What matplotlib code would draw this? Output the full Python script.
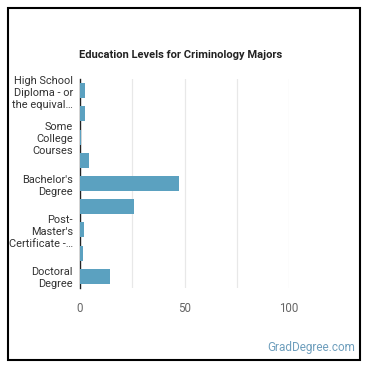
import matplotlib
matplotlib.use("Agg")
import matplotlib.pyplot as plt
from matplotlib.patches import Rectangle

plt.rcParams['font.family'] = ['Roboto', 'DejaVu Sans']

# education levels, top to bottom
categories = ["High School Diploma - or the equivalent",
              "Post-Secondary Certificate",
              "Some College Courses",
              "Associate's Degree",
              "Bachelor's Degree",
              "Master's Degree",
              "Post-Master's Certificate",
              "First Professional Degree",
              "Doctoral Degree"]
# only every other label is shown on the chart
shown_labels = ["High School\nDiploma - or\nthe equival\u2026", "",
                "Some\nCollege\nCourses", "",
                "Bachelor's\nDegree", "",
                "Post-\nMaster's\nCertificate -\u2026", "",
                "Doctoral\nDegree"]
percent = [2.2, 2.5, 0.5, 4.2, 47.3, 26.0, 1.8, 1.3, 14.3]
x_ticks = [0, 50, 100]
x_grid = [25, 50, 75, 100]

W = 370
fig = plt.figure(figsize=(3.7, 3.7), dpi=100)
ax = fig.add_axes([80 / W, 1 - 288 / W, 209 / W, 209 / W])

ypos = list(range(len(categories)))
ax.barh(ypos, percent, height=0.65, color='#5ba1c0', zorder=3)

ax.set_ylim(len(categories) - 0.5, -0.5)
ax.set_xlim(0, 100)
for g in x_grid:
    ax.axvline(g, color='#e8e8e8', lw=0.9, zorder=1)

ax.set_yticks(ypos)
ax.set_yticklabels(shown_labels, fontsize=7.9, color='#333333',
                   linespacing=1.25, ha='right', multialignment='right')
ax.set_xticks(x_ticks)
ax.set_xticklabels([str(t) for t in x_ticks], fontsize=8.3, color='#666666')
ax.tick_params(axis='y', length=0, pad=5)
ax.tick_params(axis='x', length=0, pad=10)

for s in ['top', 'right', 'bottom']:
    ax.spines[s].set_visible(False)
ax.spines['left'].set_color('#222222')
ax.spines['left'].set_linewidth(1)

fig.text(181 / W, 1 - 55 / W, "Education Levels for Criminology Majors",
         ha='center', va='center', fontsize=8, fontweight='bold',
         color='#222222')
fig.text(355 / W, 1 - 347 / W, "GradDegree.com", ha='right', va='center',
         fontsize=8.5, color='#6f9fbd')

# frame round the whole figure
fig.patches.append(Rectangle((7.5 / W, 1 - 359.5 / W), 352 / W, 352 / W,
                             transform=fig.transFigure, fill=False,
                             edgecolor='black', lw=1.5))

fig.savefig("out.png", dpi=100, facecolor='white')
